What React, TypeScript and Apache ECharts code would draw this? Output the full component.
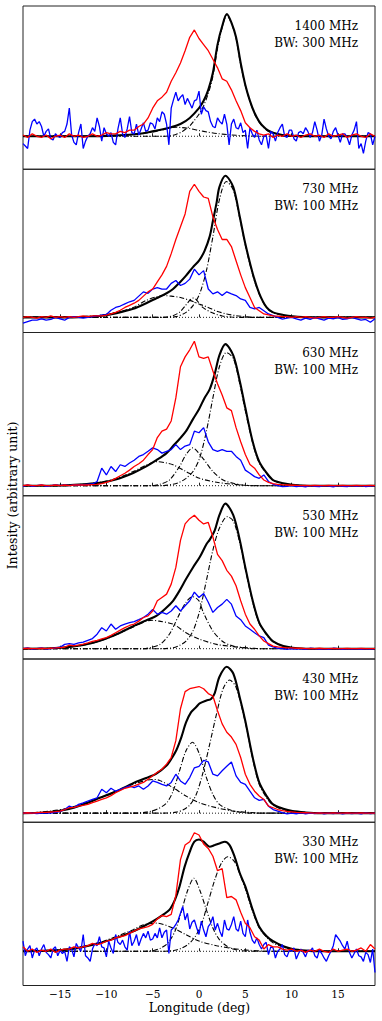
import React, { useEffect, useRef } from "react";
import * as echarts from "echarts";

// ---------------- axis / layout constants ----------------
const X_MIN = -19;
const X_MAX = 19;
const STEP = 0.5; // sampling step of the profile arrays
const STEP_FINE = 0.25; // sampling step of the noisy 1400/330 MHz blue profiles
const TICKS = [-15, -10, -5, 0, 5, 10, 15];
const FREQ_LABELS = ["1400 MHz", "730 MHz", "630 MHz", "530 MHz", "430 MHz", "330 MHz"];
const BW_LABELS = ["BW: 300 MHz", "BW: 100 MHz", "BW: 100 MHz", "BW: 100 MHz", "BW: 100 MHz", "BW: 100 MHz"];
const Y_MIN = [-0.27, -0.107, -0.071, -0.071, -0.062, -0.306];
const Y_MAX = [1.066, 1.046, 1.082, 1.054, 1.053, 1.154];
const X_LABEL = "Longitude (deg)";
const Y_LABEL = "Intesity (arbitrary unit)";

// ---------------- 1400 MHz ----------------
const red1400 = [
  0.01, -0.01, 0.02, 0.0, -0.01, 0.01, -0.02, 0.0, 0.01, -0.01,
  0.02, 0.0, 0.01, -0.01, 0.0, 0.02, 0.0, 0.01, 0.03, 0.02,
  0.02, 0.04, 0.03, 0.05, 0.05, 0.08, 0.1, 0.15, 0.23, 0.29,
  0.32, 0.36, 0.45, 0.52, 0.6, 0.7, 0.81, 0.87, 0.8, 0.75,
  0.7, 0.63, 0.56, 0.47, 0.45, 0.38, 0.29, 0.21, 0.11, 0.07,
  0.04, 0.02, 0.01, 0.02, -0.01, 0.01, 0.0, 0.02, 0.0, 0.01,
  -0.01, 0.01, 0.02, 0.0, 0.01, -0.01, 0.02, 0.0, 0.01, 0.02,
  -0.01, 0.01, 0.02, 0.0, -0.01, 0.02, 0.0,
];
const blue1400 = [
  -0.06, -0.08, -0.1, 0.05, 0.12, 0.14, 0.1, 0.12, 0.08, 0.0,
  0.04, 0.06, -0.02, -0.03, 0.02, 0.0, -0.01, 0.03, 0.04, 0.1,
  0.23, 0.01, -0.05, -0.07, 0.03, 0.1, -0.1, -0.04, 0.0, 0.02,
  0.07, 0.04, 0.15, 0.08, -0.04, 0.07, 0.02, 0.0, 0.03, -0.05,
  -0.07, 0.06, 0.15, 0.02, -0.01, 0.06, 0.16, 0.03, 0.02, 0.1,
  0.01, 0.06, 0.11, 0.04, 0.05, 0.11, 0.1, 0.06, 0.15, 0.12,
  0.2, 0.18, 0.1, -0.07, 0.23, 0.3, 0.36, 0.29, 0.32, 0.34,
  0.26, 0.31, 0.27, 0.23, 0.29, 0.3, 0.37, 0.18, 0.24, 0.21,
  0.2, 0.12, 0.08, 0.07, 0.15, 0.12, 0.1, 0.18, 0.1, -0.07,
  0.1, 0.14, 0.07, 0.06, 0.11, 0.03, 0.05, -0.1, 0.07, 0.02,
  -0.01, 0.05, -0.03, -0.07, 0.0, 0.01, -0.1, 0.04, 0.02, -0.04,
  0.03, 0.07, 0.1, 0.0, -0.01, 0.05, 0.05, -0.02, -0.04, 0.03,
  0.04, 0.02, 0.07, 0.04, -0.01, 0.03, 0.12, 0.05, -0.04, 0.01,
  0.14, 0.06, 0.0, -0.02, 0.04, 0.07, 0.01, -0.05, 0.02, 0.02,
  -0.01, -0.07, 0.01, 0.05, 0.12, -0.1, -0.06, -0.14, -0.04, 0.03,
  0.02, -0.07, 0.0,
];
const fit1400: number[][] = [
  [-19, 0], [-12, 0], [-10, 0.003], [-8, 0.01], [-7, 0.016], [-6, 0.025], [-5, 0.04], [-4, 0.055],
  [-3, 0.074], [-2, 0.1], [-1, 0.15], [0, 0.23], [0.5, 0.29], [1, 0.38], [1.5, 0.52], [2, 0.75],
  [2.5, 0.9], [3, 1.0], [3.5, 0.93], [4, 0.81], [4.5, 0.6], [5, 0.42], [5.5, 0.29], [6, 0.19],
  [6.5, 0.12], [7, 0.075], [7.5, 0.045], [8, 0.028], [9, 0.01], [10, 0.003], [12, 0], [19, 0],
];
const comps1400: number[][][] = [
  [[-19, 0], [-4, 0], [-3, 0.005], [-2.5, 0.015], [-2, 0.03], [-1.5, 0.055], [-1, 0.085], [-0.5, 0.13],
   [0, 0.18], [0.5, 0.25], [1, 0.35], [1.5, 0.49], [2, 0.72], [2.5, 0.89], [3, 0.99], [3.5, 0.925],
   [4, 0.8], [4.5, 0.585], [5, 0.415], [5.5, 0.285], [6, 0.185], [6.5, 0.115], [7, 0.07], [7.5, 0.04],
   [8, 0.025], [9, 0.008], [10, 0], [19, 0]],
  [[-19, 0], [-12, 0.002], [-10, 0.005], [-8, 0.01], [-7, 0.014], [-6, 0.024], [-5, 0.035], [-4, 0.052],
   [-3, 0.07], [-2.4, 0.074], [-2, 0.072], [-1, 0.063], [0, 0.047], [1, 0.033], [2, 0.022], [3, 0.014],
   [4, 0.008], [5, 0.004], [7, 0], [19, 0]],
];

// ---------------- 730 MHz ----------------
const red730 = [
  0.0, 0.005, 0.0, -0.005, 0.005, 0.0, 0.01, 0.0, 0.005, 0.0,
  0.005, 0.0, 0.005, 0.01, 0.005, 0.01, 0.01, 0.01, 0.015, 0.025,
  0.035, 0.05, 0.07, 0.085, 0.1, 0.12, 0.15, 0.18, 0.2, 0.25,
  0.3, 0.36, 0.45, 0.55, 0.64, 0.73, 0.89, 0.94, 0.89, 0.85,
  0.84, 0.71, 0.62, 0.55, 0.55, 0.5, 0.4, 0.3, 0.21, 0.14,
  0.07, 0.047, 0.024, 0.017, 0.01, 0.008, 0.005, 0.005, 0.0, 0.005,
  0.0, 0.005, 0.0, -0.005, 0.0, 0.005, 0.0, 0.0, 0.005, 0.0,
  -0.005, 0.0, 0.005, 0.0, 0.0, -0.005, 0.0,
];
const blue730 = [
  -0.04, -0.03, -0.02, -0.02, -0.01, -0.02, -0.015, 0.0, -0.01, -0.02,
  0.0, 0.005, 0.0, -0.005, 0.0, 0.005, 0.01, 0.015, 0.02, 0.05,
  0.07, 0.08, 0.095, 0.11, 0.12, 0.15, 0.18, 0.17, 0.2, 0.21,
  0.2, 0.2, 0.24, 0.26, 0.225, 0.24, 0.27, 0.34, 0.3, 0.33,
  0.2, 0.166, 0.18, 0.154, 0.18, 0.166, 0.154, 0.13, 0.12, 0.07,
  0.06, 0.07, 0.047, 0.024, 0.012, 0.0, -0.012, -0.005, 0.0, -0.01,
  -0.02, -0.005, -0.015, 0.0, -0.01, -0.02, -0.005, -0.01, 0.0, -0.015,
  -0.01, 0.0, -0.01, -0.02, -0.015, -0.035, -0.01,
];
const fit730: number[][] = [
  [-19, 0], [-14, 0], [-12.5, 0.003], [-10.7, 0.01], [-8.9, 0.03], [-7.1, 0.06], [-5.7, 0.1],
  [-4.6, 0.135], [-3.5, 0.17], [-2.8, 0.2], [-2.1, 0.245], [-1.4, 0.295], [-0.65, 0.355], [0, 0.4],
  [0.6, 0.47], [1.15, 0.57], [1.5, 0.68], [1.9, 0.81], [2.2, 0.92], [2.85, 1.0], [3.7, 0.92],
  [4.4, 0.71], [5, 0.52], [5.8, 0.31], [6.5, 0.17], [7.3, 0.07], [8, 0.035], [9.1, 0.017],
  [10.1, 0.007], [12, 0], [19, 0],
];
const comps730: number[][][] = [
  [[-19, 0], [-14, 0.002], [-12.5, 0.005], [-10.7, 0.015], [-8.9, 0.035], [-7.1, 0.07], [-5.7, 0.12],
   [-4.6, 0.145], [-3.9, 0.154], [-3, 0.15], [-2, 0.14], [-1, 0.12], [0, 0.095], [1, 0.07], [2, 0.042],
   [3, 0.024], [4, 0.012], [5, 0.005], [6, 0], [19, 0]],
  [[-19, 0], [-4, 0], [-3.5, 0.002], [-2.8, 0.012], [-2.1, 0.036], [-1.5, 0.08], [-1, 0.12], [-0.7, 0.137],
   [-0.3, 0.125], [0.4, 0.07], [1.5, 0.03], [2.5, 0.01], [3.5, 0.002], [4.5, 0], [19, 0]],
  [[-19, 0], [-4, 0], [-2.5, 0.005], [-1.4, 0.035], [-0.65, 0.083], [0.07, 0.166], [0.8, 0.33], [1.5, 0.57],
   [2.2, 0.83], [2.95, 0.96], [3.7, 0.9], [4.4, 0.7], [5, 0.51], [5.8, 0.3], [6.5, 0.165], [7.3, 0.068],
   [8, 0.033], [9.1, 0.015], [10.1, 0.006], [12, 0], [19, 0]],
];

// ---------------- 630 MHz ----------------
const red630 = [
  0.0, 0.005, 0.0, 0.0, 0.005, 0.0, 0.0, 0.005, 0.0, 0.005,
  0.0, 0.005, 0.005, 0.005, 0.005, 0.008, 0.01, 0.015, 0.024, 0.035,
  0.052, 0.07, 0.088, 0.11, 0.136, 0.155, 0.18, 0.22, 0.255, 0.34,
  0.385, 0.4, 0.457, 0.62, 0.84, 0.91, 0.96, 1.02, 0.91, 0.9,
  0.91, 0.81, 0.72, 0.64, 0.55, 0.53, 0.41, 0.31, 0.22, 0.15,
  0.124, 0.076, 0.04, 0.024, 0.014, 0.01, 0.007, 0.005, 0.003, 0.003,
  0.0, 0.003, 0.0, 0.003, 0.0, 0.0, 0.003, 0.0, 0.0, 0.003,
  0.0, 0.0, 0.003, 0.0, 0.0, 0.003, 0.0,
];
const blue630 = [
  -0.005, 0.005, -0.005, 0.0, 0.005, -0.005, 0.0, 0.005, 0.0, 0.005,
  0.0, 0.005, 0.005, 0.008, 0.01, 0.012, 0.03, 0.124, 0.076, 0.136,
  0.1, 0.148, 0.136, 0.16, 0.18, 0.207, 0.22, 0.243, 0.267, 0.255,
  0.23, 0.243, 0.255, 0.29, 0.255, 0.28, 0.29, 0.385, 0.374, 0.41,
  0.31, 0.255, 0.243, 0.255, 0.243, 0.243, 0.207, 0.18, 0.11, 0.088,
  0.064, 0.052, 0.076, 0.03, 0.01, 0.0, -0.007, -0.005, 0.0, -0.007,
  -0.003, -0.008, 0.0, -0.005, -0.007, 0.0, -0.003, -0.008, 0.0, -0.005,
  -0.007, 0.0, -0.005, 0.0, -0.006, -0.003, 0.0,
];
const fit630: number[][] = [
  [-19, 0], [-16, 0], [-14.3, 0.003], [-12.5, 0.01], [-10.7, 0.02], [-8.9, 0.045], [-7.1, 0.09],
  [-5.7, 0.136], [-4.6, 0.18], [-3.5, 0.23], [-2.8, 0.28], [-2.1, 0.33], [-1.4, 0.385], [-0.65, 0.47],
  [0, 0.54], [0.6, 0.62], [1.15, 0.68], [1.7, 0.79], [2.2, 0.92], [2.85, 1.0], [3.7, 0.92], [4.4, 0.74],
  [5, 0.55], [5.8, 0.31], [6.5, 0.17], [7.3, 0.09], [8, 0.04], [9.1, 0.017], [10.1, 0.007], [12, 0],
  [19, 0],
];
const comps630: number[][][] = [
  [[-19, 0], [-16, 0.002], [-12.5, 0.01], [-10.7, 0.024], [-8.9, 0.052], [-7.1, 0.1], [-5.7, 0.145],
   [-4.6, 0.17], [-3.5, 0.16], [-2.8, 0.148], [-1.4, 0.1], [0.07, 0.052], [1.9, 0.024], [3.7, 0.01],
   [5, 0.003], [6.5, 0], [19, 0]],
  [[-19, 0], [-5, 0], [-4.2, 0.01], [-3.2, 0.04], [-2.1, 0.136], [-1.4, 0.22], [-0.7, 0.267], [0.4, 0.195],
   [1.5, 0.1], [2.6, 0.04], [3.7, 0.017], [4.7, 0.005], [6, 0], [19, 0]],
  [[-19, 0], [-4, 0], [-2.8, 0.01], [-2.1, 0.024], [-1.4, 0.052], [-0.65, 0.1], [0.07, 0.195], [0.8, 0.385],
   [1.5, 0.62], [2.2, 0.84], [2.95, 0.94], [3.7, 0.9], [4.4, 0.72], [5, 0.53], [5.8, 0.3], [6.5, 0.16],
   [7.3, 0.085], [8, 0.038], [9.1, 0.015], [10.1, 0.006], [12, 0], [19, 0]],
];

// ---------------- 530 MHz ----------------
const red530 = [
  0.0, 0.003, 0.0, 0.0, 0.003, 0.0, 0.003, 0.005, 0.008, 0.01,
  0.025, 0.02, 0.025, 0.032, 0.04, 0.05, 0.058, 0.067, 0.076, 0.092,
  0.11, 0.128, 0.145, 0.16, 0.17, 0.19, 0.215, 0.226, 0.26, 0.33,
  0.353, 0.376, 0.445, 0.56, 0.746, 0.86, 0.896, 0.92, 0.885, 0.86,
  0.87, 0.77, 0.65, 0.607, 0.54, 0.5, 0.434, 0.33, 0.238, 0.17,
  0.134, 0.088, 0.053, 0.035, 0.018, 0.012, 0.009, 0.006, 0.005, 0.003,
  0.003, 0.0, 0.002, 0.0, 0.003, 0.0, 0.0, 0.002, 0.0, 0.0,
  0.002, 0.0, 0.0, 0.002, 0.0, 0.0, 0.0,
];
const blue530 = [
  0.0, 0.005, -0.003, 0.0, 0.005, -0.003, 0.0, 0.005, 0.01, 0.03,
  0.035, 0.03, 0.04, 0.045, 0.058, 0.07, 0.1, 0.145, 0.122, 0.17,
  0.134, 0.157, 0.17, 0.18, 0.187, 0.2, 0.215, 0.238, 0.27, 0.238,
  0.25, 0.238, 0.26, 0.296, 0.26, 0.296, 0.33, 0.39, 0.353, 0.38,
  0.32, 0.25, 0.284, 0.307, 0.34, 0.307, 0.226, 0.2, 0.157, 0.134,
  0.11, 0.088, 0.076, 0.025, 0.012, 0.003, 0.0, -0.005, 0.0, -0.003,
  0.0, -0.005, 0.003, 0.0, -0.004, 0.0, -0.005, 0.003, 0.0, -0.004,
  0.0, -0.003, 0.0, -0.005, 0.0, -0.003, 0.0,
];
const fit530: number[][] = [
  [-19, 0], [-16, 0.003], [-14.3, 0.01], [-12.5, 0.025], [-10.7, 0.055], [-8.9, 0.1], [-7.1, 0.155],
  [-5.7, 0.195], [-4.6, 0.226], [-3.5, 0.284], [-2.8, 0.33], [-2.1, 0.4], [-1.4, 0.48], [-0.65, 0.56],
  [0.07, 0.63], [0.8, 0.72], [1.15, 0.75], [1.7, 0.815], [2.2, 0.92], [2.85, 1.0], [3.7, 0.92],
  [4.4, 0.75], [5, 0.56], [5.8, 0.33], [6.5, 0.18], [7.3, 0.1], [8, 0.05], [9.1, 0.018], [10.1, 0.007],
  [12, 0], [19, 0],
];
const comps530: number[][][] = [
  [[-19, 0], [-16, 0.003], [-14.3, 0.01], [-12.5, 0.025], [-10.7, 0.053], [-8.9, 0.097], [-7.1, 0.15],
   [-5.7, 0.19], [-5, 0.196], [-4.3, 0.19], [-2.8, 0.169], [-1.4, 0.11], [0.07, 0.065], [1.9, 0.03],
   [3.7, 0.014], [5.4, 0.005], [7, 0], [19, 0]],
  [[-19, 0], [-6, 0], [-5.3, 0.007], [-4.2, 0.03], [-3.2, 0.1], [-2.1, 0.24], [-1.4, 0.32], [-0.7, 0.358],
   [0, 0.33], [0.4, 0.26], [1.5, 0.122], [2.6, 0.048], [3.7, 0.018], [4.7, 0.007], [6, 0], [19, 0]],
  [[-19, 0], [-4, 0], [-2.8, 0.007], [-2.1, 0.023], [-1.4, 0.053], [-0.65, 0.122], [0.07, 0.26], [0.8, 0.47],
   [1.5, 0.68], [2.2, 0.83], [3.05, 0.91], [3.7, 0.88], [4.4, 0.73], [5, 0.55], [5.8, 0.32], [6.5, 0.175],
   [7.3, 0.095], [8, 0.047], [9.1, 0.017], [10.1, 0.006], [12, 0], [19, 0]],
];

// ---------------- 430 MHz ----------------
const red430 = [
  0.0, 0.003, 0.0, 0.003, 0.005, 0.005, 0.008, 0.01, 0.014, 0.025,
  0.037, 0.04, 0.048, 0.054, 0.06, 0.072, 0.083, 0.094, 0.105, 0.12,
  0.14, 0.155, 0.17, 0.178, 0.186, 0.198, 0.21, 0.232, 0.255, 0.28,
  0.3, 0.335, 0.38, 0.495, 0.713, 0.83, 0.85, 0.858, 0.865, 0.85,
  0.817, 0.8, 0.7, 0.61, 0.553, 0.52, 0.47, 0.38, 0.266, 0.197,
  0.15, 0.117, 0.094, 0.048, 0.037, 0.025, 0.018, 0.012, 0.009, 0.006,
  0.004, 0.003, 0.002, 0.0, 0.002, 0.0, 0.0, 0.002, 0.0, 0.0,
  0.002, 0.0, 0.0, 0.002, 0.0, 0.0, 0.0,
];
const blue430 = [
  0.0, 0.003, 0.0, -0.003, 0.0, 0.003, 0.0, 0.005, 0.01, 0.025,
  0.048, 0.037, 0.06, 0.07, 0.083, 0.094, 0.105, 0.163, 0.14, 0.17,
  0.15, 0.163, 0.174, 0.186, 0.174, 0.186, 0.163, 0.186, 0.22, 0.21,
  0.197, 0.186, 0.21, 0.266, 0.22, 0.197, 0.243, 0.31, 0.32, 0.36,
  0.35, 0.266, 0.255, 0.29, 0.32, 0.35, 0.255, 0.21, 0.197, 0.15,
  0.105, 0.087, 0.094, 0.048, 0.025, 0.014, 0.003, -0.005, 0.0, -0.004,
  0.002, -0.005, 0.0, -0.003, 0.003, -0.004, 0.0, -0.003, 0.002, -0.005,
  0.0, -0.003, 0.0, -0.004, 0.002, -0.003, 0.0,
];
const fit430: number[][] = [
  [-19, 0], [-17, 0.003], [-16.1, 0.007], [-14.3, 0.025], [-12.5, 0.06], [-10.7, 0.105], [-8.9, 0.15],
  [-7.1, 0.205], [-5.7, 0.24], [-4.6, 0.27], [-3.5, 0.325], [-3, 0.37], [-2.45, 0.43], [-1.9, 0.52],
  [-1.4, 0.62], [-0.85, 0.69], [-0.3, 0.725], [0.07, 0.75], [0.8, 0.77], [1.3, 0.78], [1.7, 0.82],
  [2.2, 0.93], [3.0, 1.0], [3.7, 0.954], [4.4, 0.79], [5, 0.63], [5.8, 0.38], [6.5, 0.21], [7.3, 0.117],
  [8, 0.06], [9.1, 0.03], [10.1, 0.014], [11.5, 0.005], [13, 0], [19, 0],
];
const comps430: number[][][] = [
  [[-19, 0], [-18, 0.003], [-16.1, 0.014], [-14.3, 0.032], [-12.5, 0.064], [-10.7, 0.105], [-8.9, 0.15],
   [-7.1, 0.197], [-5.7, 0.225], [-5, 0.23], [-4.3, 0.225], [-2.8, 0.174], [-1.4, 0.117], [0.07, 0.07],
   [1.9, 0.037], [3.7, 0.014], [5.4, 0.005], [7, 0], [19, 0]],
  [[-19, 0], [-7, 0], [-5.7, 0.007], [-4.6, 0.025], [-3.5, 0.07], [-2.8, 0.15], [-2.1, 0.29], [-1.4, 0.427],
   [-0.7, 0.484], [0.07, 0.4], [0.8, 0.243], [1.5, 0.128], [2.2, 0.06], [3.3, 0.023], [4.4, 0.007], [6, 0],
   [19, 0]],
  [[-19, 0], [-4, 0], [-2.45, 0.007], [-1.7, 0.023], [-1, 0.055], [-0.3, 0.128], [0.4, 0.27], [1.15, 0.47],
   [1.9, 0.68], [2.6, 0.85], [3.3, 0.91], [4, 0.86], [5, 0.62], [5.8, 0.37], [6.5, 0.197], [7.3, 0.105],
   [8, 0.055], [9.1, 0.023], [10.1, 0.009], [12, 0], [19, 0]],
];

// ---------------- 330 MHz ----------------
const red330 = [
  0.04, 0.0, 0.02, -0.01, 0.01, 0.0, 0.02, -0.01, 0.01, 0.02,
  0.02, 0.04, 0.03, 0.04, 0.05, 0.07, 0.06, 0.07, 0.09, 0.1,
  0.12, 0.13, 0.14, 0.16, 0.18, 0.2, 0.21, 0.22, 0.24, 0.29,
  0.32, 0.31, 0.33, 0.5, 0.82, 0.95, 0.98, 1.06, 1.04, 0.96,
  0.92, 0.85, 0.72, 0.74, 0.48, 0.49, 0.46, 0.35, 0.25, 0.21,
  0.13, 0.1, 0.02, 0.06, 0.04, 0.04, 0.02, 0.01, 0.02, 0.0,
  0.01, -0.01, 0.01, 0.0, 0.02, 0.0, -0.01, 0.02, 0.0, 0.01,
  0.02, 0.0, 0.01, 0.03, 0.0, 0.06, 0.02,
];
const blue330 = [
  0.09, -0.04, 0.02, 0.05, -0.06, 0.01, 0.03, -0.04, 0.02, 0.06,
  -0.01, -0.03, -0.06, 0.02, 0.04, -0.04, 0.01, -0.02, 0.0, -0.09,
  0.04, 0.02, -0.05, 0.07, 0.03, 0.0, 0.15, -0.04, -0.06, -0.09,
  0.02, 0.07, 0.05, 0.13, 0.04, 0.03, -0.05, 0.09, 0.03, -0.02,
  0.15, 0.08, 0.06, 0.1, 0.04, 0.01, 0.18, 0.05, 0.09, 0.15,
  0.05, 0.11, 0.16, 0.12, 0.18, 0.1, 0.11, 0.16, 0.12, 0.21,
  0.12, 0.17, 0.19, -0.02, 0.19, 0.21, 0.24, 0.28, 0.34, 0.4,
  0.28, 0.34, 0.2, 0.26, 0.28, 0.21, 0.15, 0.27, 0.19, 0.13,
  0.22, 0.25, 0.31, 0.19, 0.25, 0.18, 0.13, 0.28, 0.2, 0.19,
  0.24, 0.31, 0.2, 0.18, 0.27, 0.16, 0.13, 0.28, 0.17, 0.1,
  0.07, 0.12, 0.06, 0.02, 0.06, 0.08, -0.03, 0.04, 0.03, -0.06,
  0.0, 0.02, 0.06, -0.03, -0.05, 0.01, 0.0, 0.03, -0.07, -0.02,
  0.02, -0.01, -0.05, 0.01, 0.0, 0.03, -0.04, -0.06, 0.01, -0.02,
  -0.06, -0.09, -0.04, 0.0, 0.05, 0.15, 0.12, 0.09, 0.05, 0.02,
  0.09, -0.01, -0.06, -0.02, 0.02, -0.04, -0.05, -0.09, -0.01, -0.03,
  -0.1, 0.02, -0.19,
];
const fit330: number[][] = [
  [-19, 0], [-17.5, 0.002], [-16.1, 0.006], [-14.3, 0.015], [-12.5, 0.039], [-10.7, 0.074], [-8.9, 0.12],
  [-7.1, 0.178], [-6, 0.223], [-5, 0.267], [-3.9, 0.326], [-3.2, 0.37], [-2.6, 0.46], [-2.1, 0.58],
  [-1.55, 0.757], [-1, 0.89], [-0.5, 0.98], [0, 1.0], [0.5, 0.98], [1.15, 0.935], [1.7, 0.95],
  [2.2, 0.964], [2.8, 0.98], [3.3, 0.95], [3.85, 0.845], [4.4, 0.7], [5, 0.58], [5.8, 0.37], [6.5, 0.22],
  [7.3, 0.134], [8, 0.09], [9.1, 0.045], [10.1, 0.02], [11.5, 0.006], [13, 0], [19, 0],
];
const comps330: number[][][] = [
  [[-19, 0], [-17.5, 0.003], [-16.1, 0.009], [-14.3, 0.02], [-12.5, 0.045], [-10.7, 0.08], [-8.9, 0.134],
   [-7.1, 0.193], [-6, 0.237], [-4.6, 0.252], [-2.8, 0.208], [-1.4, 0.148], [0.07, 0.089], [1.9, 0.05],
   [3.7, 0.024], [5.4, 0.009], [7, 0.002], [8, 0], [19, 0]],
  [[-19, 0], [-6, 0], [-4.8, 0.009], [-4.1, 0.03], [-3.35, 0.074], [-2.6, 0.178], [-1.9, 0.356], [-1.2, 0.55],
   [-0.55, 0.653], [0.07, 0.55], [0.8, 0.37], [1.5, 0.208], [2.2, 0.104], [2.95, 0.05], [3.7, 0.02],
   [4.4, 0.006], [6, 0], [19, 0]],
  [[-19, 0], [-4, 0], [-2.6, 0.009], [-1.9, 0.027], [-1.2, 0.06], [-0.5, 0.12], [0.25, 0.237], [0.95, 0.43],
   [1.7, 0.638], [2.4, 0.786], [3.1, 0.846], [3.85, 0.8], [4.4, 0.69], [5, 0.56], [5.8, 0.355], [6.5, 0.21],
   [7.3, 0.125], [8, 0.075], [9.1, 0.037], [10.1, 0.015], [12, 0], [19, 0]],
];

const PANELS = [
  { red: red1400, blue: blue1400, blueStep: STEP_FINE, fit: fit1400, comps: comps1400 },
  { red: red730, blue: blue730, blueStep: STEP, fit: fit730, comps: comps730 },
  { red: red630, blue: blue630, blueStep: STEP, fit: fit630, comps: comps630 },
  { red: red530, blue: blue530, blueStep: STEP, fit: fit530, comps: comps530 },
  { red: red430, blue: blue430, blueStep: STEP, fit: fit430, comps: comps430 },
  { red: red330, blue: blue330, blueStep: STEP_FINE, fit: fit330, comps: comps330 },
];

// ---------------- layout ----------------
const W = 382;
const H = 1021;
const GRID_LEFT = 23;
const GRID_RIGHT = 7;
const GRID_TOP0 = 6;
const GRID_H = 163.25;
const FONT = "DejaVu Serif";

const toPairs = (ys: number[], step: number) => ys.map((y, i) => [X_MIN + i * step, y]);

function buildOption() {
  const grid: any[] = [];
  const xAxis: any[] = [];
  const yAxis: any[] = [];
  const series: any[] = [];
  const graphic: any[] = [];
  const last = PANELS.length - 1;

  PANELS.forEach((p, i) => {
    const top = GRID_TOP0 + i * GRID_H;
    grid.push({
      left: GRID_LEFT, right: GRID_RIGHT, top, height: GRID_H,
      show: true, borderColor: "#222", borderWidth: 1, backgroundColor: "transparent",
    });
    xAxis.push({
      type: "value", gridIndex: i, min: X_MIN, max: X_MAX,
      axisLine: { show: false },
      splitLine: { show: false },
      axisTick: { show: true, inside: true, length: 3, customValues: TICKS, lineStyle: { color: "#222", width: 1 } },
      axisLabel: {
        show: i === last, customValues: TICKS, margin: 3, fontSize: 10.5, fontFamily: FONT, color: "#000",
        formatter: (v: number) => (v < 0 ? "\u2212" + Math.abs(v) : String(v)),
      },
    });
    yAxis.push({
      type: "value", gridIndex: i, min: Y_MIN[i], max: Y_MAX[i],
      axisLine: { show: false }, axisTick: { show: false }, axisLabel: { show: false }, splitLine: { show: false },
    });
    const common = { xAxisIndex: i, yAxisIndex: i, type: "line", showSymbol: false, symbol: "none", silent: true, clip: true };
    series.push({ ...common, data: [[X_MIN, 0], [X_MAX, 0]], lineStyle: { color: "#000", width: 0.9, type: [1, 2] } });
    p.comps.forEach((c) => {
      series.push({ ...common, data: c, smooth: 0.3, lineStyle: { color: "#000", width: 1.1, type: [5, 2, 1, 2] } });
    });
    series.push({ ...common, data: p.fit, smooth: 0.3, lineStyle: { color: "#000", width: 2.1 } });
    series.push({ ...common, data: toPairs(p.blue, p.blueStep), lineStyle: { color: "#0000ff", width: 1.3 } });
    series.push({ ...common, data: toPairs(p.red, STEP), lineStyle: { color: "#ff0000", width: 1.3 } });

    graphic.push({
      type: "text", x: 358, y: top + 20,
      style: { text: FREQ_LABELS[i], textAlign: "right", textVerticalAlign: "middle", fontSize: 12, fontFamily: FONT, fill: "#000" },
    });
    graphic.push({
      type: "text", x: 358, y: top + 37,
      style: { text: BW_LABELS[i], textAlign: "right", textVerticalAlign: "middle", fontSize: 12, fontFamily: FONT, fill: "#000" },
    });
  });

  graphic.push({
    type: "text", x: 199.5, y: 1007.5,
    style: { text: X_LABEL, textAlign: "center", textVerticalAlign: "middle", fontSize: 12.5, fontFamily: FONT, fill: "#000" },
  });
  graphic.push({
    type: "text", x: 12, y: 495.5, rotation: Math.PI / 2,
    style: { text: Y_LABEL, textAlign: "center", textVerticalAlign: "middle", fontSize: 12.5, fontFamily: FONT, fill: "#000" },
  });

  return { animation: false, backgroundColor: "#fff", grid, xAxis, yAxis, series, graphic };
}

export default function App() {
  const ref = useRef<HTMLDivElement>(null);
  useEffect(() => {
    if (!ref.current) return;
    const chart = echarts.init(ref.current, undefined, { renderer: "svg" });
    chart.setOption(buildOption() as any);
    return () => chart.dispose();
  }, []);
  return <div ref={ref} style={{ position: "fixed", left: 0, top: 0, width: W, height: H }} />;
}
